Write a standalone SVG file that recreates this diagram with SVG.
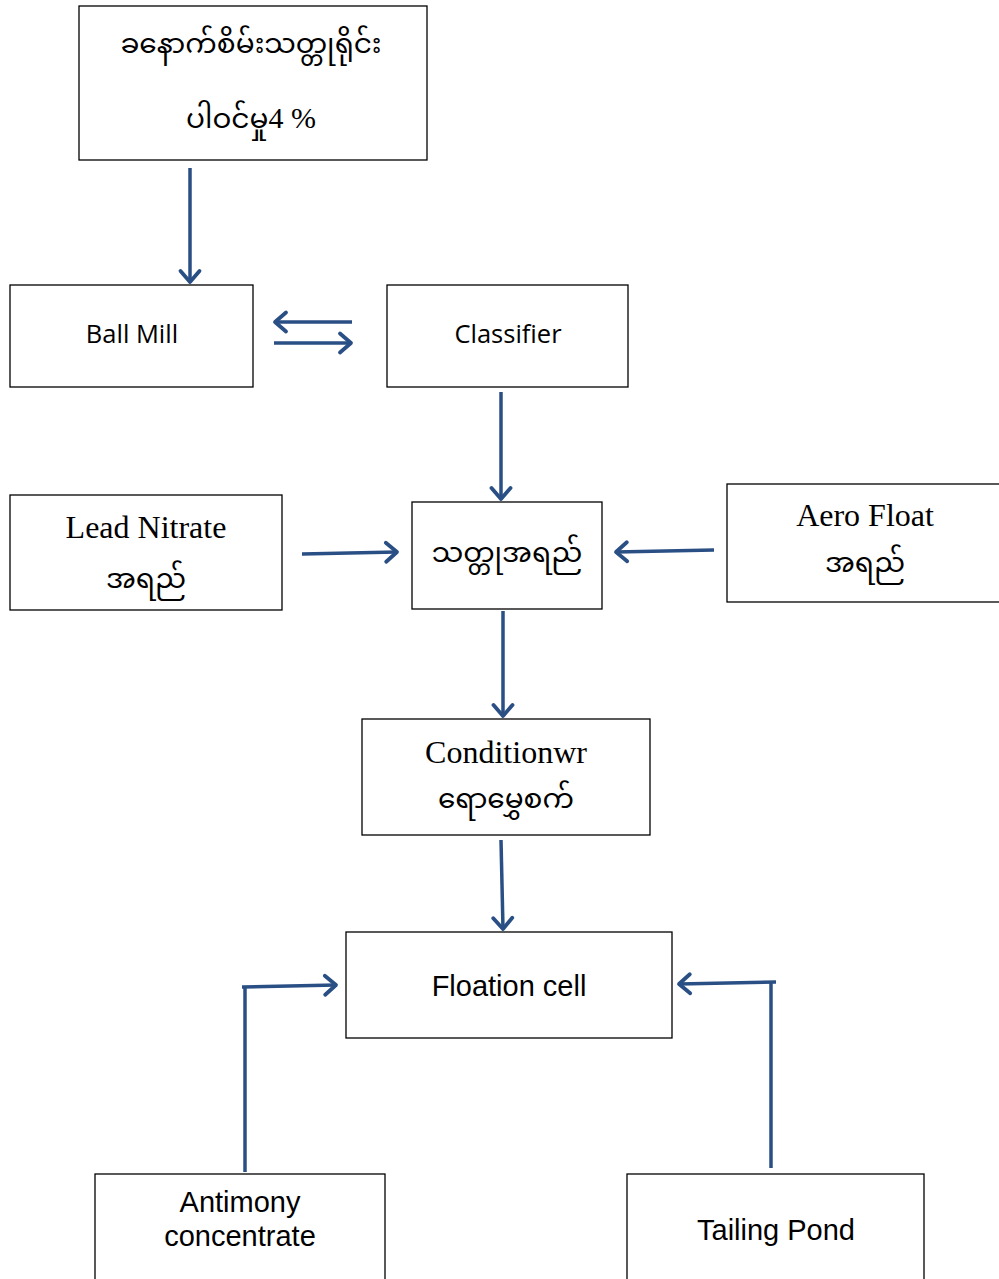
<svg xmlns="http://www.w3.org/2000/svg" width="999" height="1279" viewBox="0 0 999 1279">
<style>
.box{fill:#ffffff;stroke:#000000;stroke-width:1.3}
.con{fill:none;stroke:#2A4F85;stroke-width:3.5;stroke-linecap:butt}
.cal{font-family:"Open Sans","Liberation Sans",sans-serif;font-size:25.5px;fill:#000;text-anchor:middle}
.tnr{font-family:"Liberation Serif","Times New Roman",serif;font-size:32px;fill:#000;text-anchor:middle}
.ari{font-family:"Liberation Sans",Arial,sans-serif;font-size:29px;fill:#000;text-anchor:middle}
.mya{font-family:"Noto Sans Myanmar","Padauk","Myanmar Text","Noto Sans","DejaVu Sans",sans-serif;font-size:28px;fill:#000;text-anchor:middle}
</style>
<defs>
<marker id="ah" markerUnits="userSpaceOnUse" markerWidth="20" markerHeight="26" refX="15" refY="13" orient="auto">
<path d="M4,3.5 L15,13 L4,22.5" fill="none" stroke="#2A4F85" stroke-width="3.8" stroke-linecap="round" stroke-linejoin="round"/>
</marker>
</defs>
<rect width="999" height="1279" fill="#ffffff"/>
<g id="node-ore">
<rect class="box" x="79" y="6" width="348" height="154"/>
<text class="mya" x="251" y="53">ခနောက်စိမ်းသတ္တုရိုင်း</text>
<text class="mya" x="251" y="128">ပါဝင်မှု<tspan font-family="Liberation Serif,serif" font-size="30px">4 %</tspan></text>
</g>
<g id="node-ballmill">
<rect class="box" x="10" y="285" width="243" height="102"/>
<text class="cal" x="132" y="343">Ball Mill</text>
</g>
<g id="node-classifier">
<rect class="box" x="387" y="285" width="241" height="102"/>
<text class="cal" x="508" y="343">Classifier</text>
</g>
<g id="node-lead">
<rect class="box" x="10" y="495" width="272" height="115"/>
<text class="tnr" x="146" y="538">Lead Nitrate</text>
<text class="mya" x="146" y="588">အရည်</text>
</g>
<g id="node-solution">
<rect class="box" x="412" y="502" width="190" height="107"/>
<text class="mya" x="507" y="562">သတ္တုအရည်</text>
</g>
<g id="node-aero">
<rect class="box" x="727" y="484" width="280" height="118"/>
<text class="tnr" x="865" y="526">Aero Float</text>
<text class="mya" x="865" y="572">အရည်</text>
</g>
<g id="node-conditioner">
<rect class="box" x="362" y="719" width="288" height="116"/>
<text class="tnr" x="506" y="763">Conditionwr</text>
<text class="mya" x="506" y="808">ရောမွှေစက်</text>
</g>
<g id="node-floation">
<rect class="box" x="346" y="932" width="326" height="106"/>
<text class="ari" x="509" y="996">Floation cell</text>
</g>
<g id="node-antimony">
<rect class="box" x="95" y="1174" width="290" height="110"/>
<text class="ari" x="240" y="1212">Antimony</text>
<text class="ari" x="240" y="1246">concentrate</text>
</g>
<g id="node-tailing">
<rect class="box" x="627" y="1174" width="297" height="110"/>
<text class="ari" x="776" y="1240">Tailing Pond</text>
</g>
<g id="connectors">
<line class="con" x1="190" y1="168" x2="190" y2="282" marker-end="url(#ah)"/>
<line class="con" x1="352" y1="322" x2="275" y2="322" marker-end="url(#ah)"/>
<line class="con" x1="274" y1="343" x2="351" y2="343" marker-end="url(#ah)"/>
<line class="con" x1="501" y1="392" x2="501" y2="499" marker-end="url(#ah)"/>
<line class="con" x1="302" y1="554" x2="397" y2="552" marker-end="url(#ah)"/>
<line class="con" x1="714" y1="550" x2="616" y2="552" marker-end="url(#ah)"/>
<line class="con" x1="503" y1="611" x2="503" y2="716" marker-end="url(#ah)"/>
<line class="con" x1="501" y1="840" x2="503" y2="929" marker-end="url(#ah)"/>
<line class="con" x1="245" y1="1172" x2="245" y2="987"/>
<line class="con" x1="242" y1="987" x2="336" y2="985" marker-end="url(#ah)"/>
<line class="con" x1="771" y1="1168" x2="771" y2="982"/>
<line class="con" x1="776" y1="982" x2="679" y2="984" marker-end="url(#ah)"/>
</g>
</svg>
